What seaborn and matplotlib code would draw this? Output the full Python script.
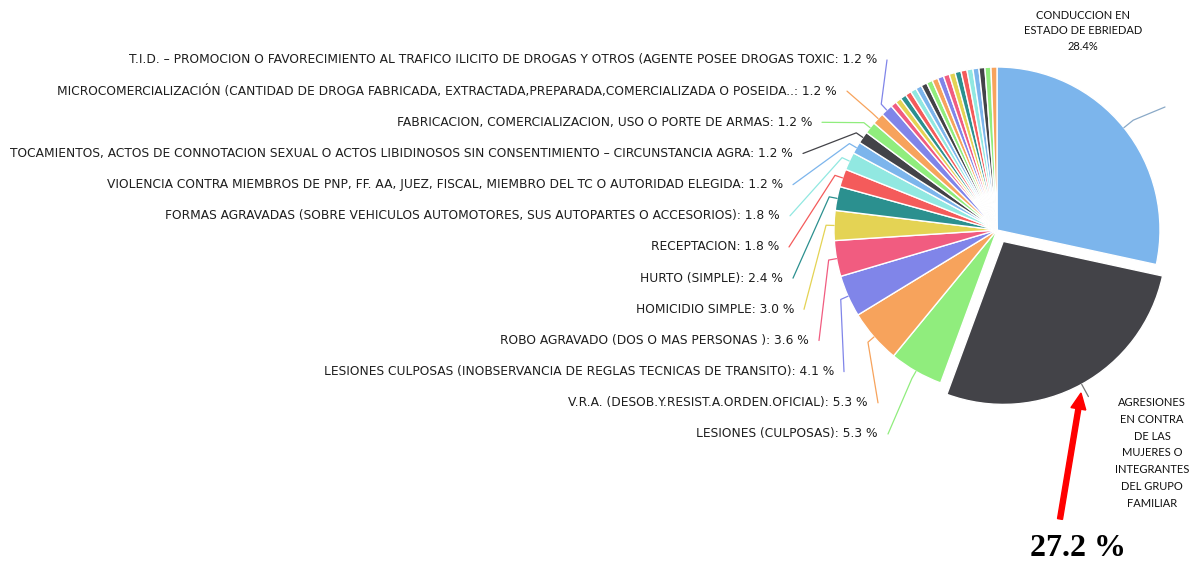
import numpy as np
import matplotlib
matplotlib.use("Agg")
import matplotlib.pyplot as plt
import seaborn as sns

# case counts per offence (percentages are derived from these)
delitos = [
    "CONDUCCION EN ESTADO DE EBRIEDAD",
    "AGRESIONES EN CONTRA DE LAS MUJERES O INTEGRANTES DEL GRUPO FAMILIAR",
    "LESIONES (CULPOSAS)",
    "V.R.A. (DESOB.Y.RESIST.A.ORDEN.OFICIAL)",
    "LESIONES CULPOSAS (INOBSERVANCIA DE REGLAS TECNICAS DE TRANSITO)",
    "ROBO AGRAVADO (DOS O MAS PERSONAS )",
    "HOMICIDIO SIMPLE",
    "HURTO (SIMPLE)",
    "RECEPTACION",
    "FORMAS AGRAVADAS (SOBRE VEHICULOS AUTOMOTORES, SUS AUTOPARTES O ACCESORIOS)",
    "VIOLENCIA CONTRA MIEMBROS DE PNP, FF. AA, JUEZ, FISCAL, MIEMBRO DEL TC O AUTORIDAD ELEGIDA",
    "TOCAMIENTOS, ACTOS DE CONNOTACION SEXUAL O ACTOS LIBIDINOSOS SIN CONSENTIMIENTO \u2013 CIRCUNSTANCIA AGRA",
    "FABRICACION, COMERCIALIZACION, USO O PORTE DE ARMAS",
    "MICROCOMERCIALIZACI\u00d3N (CANTIDAD DE DROGA FABRICADA, EXTRACTADA,PREPARADA,COMERCIALIZADA O POSEIDA..",
    "T.I.D. \u2013 PROMOCION O FAVORECIMIENTO AL TRAFICO ILICITO DE DROGAS Y OTROS (AGENTE POSEE DROGAS TOXIC",
]
casos = [48, 46, 9, 9, 7, 6, 5, 4, 3, 3, 2, 2, 2, 2, 2]
# small offences without visible label
casos_menores = [1, 1, 1, 1, 1, 1, 1, 1, 1, 1, 1, 1, 1, 1, 1, 1, 1, 1, 1]

valores = casos + casos_menores
total = sum(valores)
pct = [100 * v / total for v in valores]

highcharts = ["#7cb5ec", "#434348", "#90ed7d", "#f7a35c", "#8085e9",
              "#f15c80", "#e4d354", "#2b908f", "#f45b5b", "#91e8e1"]
pal = sns.color_palette(highcharts)
colores = [pal[i % len(pal)] for i in range(len(valores))]

sns.set_theme(style="white")
plt.rcParams['font.family'] = ['DejaVu Sans']

W, H = 1200, 567
fig = plt.figure(figsize=(12, 5.67), dpi=100)
ax = fig.add_axes([0, 0, 1, 1])

cx, cy, r = 997, H - 230, 163
explode = [0.0] * len(valores)
explode[1] = 13  # offset in data units (pixels here)
wedges, _ = ax.pie(valores, colors=colores, startangle=90, counterclock=False,
                   center=(cx, cy), radius=r, explode=explode,
                   wedgeprops=dict(edgecolor="white", linewidth=1.0))
ax.set_xlim(0, W)
ax.set_ylim(0, H)
ax.set_aspect("equal")
ax.axis("off")


def borde(w, extra=0):
    ang = np.deg2rad((w.theta1 + w.theta2) / 2)
    x0, y0 = w.center
    return x0 + (w.r + extra) * np.cos(ang), y0 + (w.r + extra) * np.sin(ang)


# left labels, from bottom (index 2) to top (index 14)
fin_x = [878, 868, 834, 809, 794, 783, 779, 780, 783, 793, 812, 837, 877]
for k, i in enumerate(range(2, 15)):
    ly = H - (434 - k * 31.17)
    lx = fin_x[k]
    ax.text(lx, ly, f"{delitos[i]}: {pct[i]:.1f} %", ha="right", va="center",
            fontsize=8.8, color="#1e1e1e")
    p0 = borde(wedges[i])
    p1 = borde(wedges[i], 8)
    ax.plot([p0[0], p1[0], lx + 10], [p0[1], p1[1], ly],
            color=colores[i], lw=0.9)

# connector of the biggest slice (label runs off the right edge)
p0 = borde(wedges[0])
p1 = borde(wedges[0], 12)
ax.plot([p0[0], p1[0], 1165], [p0[1], p1[1], H - 107], color="#8aa9c7", lw=0.9)
p0 = borde(wedges[1])
p1 = borde(wedges[1], 14)
ax.plot([p0[0], p1[0]], [p0[1], p1[1]], color="#777777", lw=0.9)

ax.text(1083, H - 31, f"CONDUCCION EN\nESTADO DE EBRIEDAD\n{pct[0]:.1f}%",
        ha="center", va="center", fontsize=8, family="Lato",
        linespacing=1.45, color="#111111")

ax.text(1152, H - 453,
        "AGRESIONES\nEN CONTRA\nDE LAS\nMUJERES O\nINTEGRANTES\nDEL GRUPO\nFAMILIAR",
        ha="center", va="center", fontsize=8, family="Lato",
        linespacing=1.65, color="#111111")

ax.arrow(1060, H - 519, 21, 126, width=5, head_width=15, head_length=16,
         length_includes_head=True, color="red", zorder=5)

ax.text(1078, H - 549, f"{pct[1]:.1f} %", ha="center", va="center",
        fontsize=23, family="Liberation Serif", weight="bold", color="black")

fig.savefig("out.png", dpi=100, facecolor="white")
